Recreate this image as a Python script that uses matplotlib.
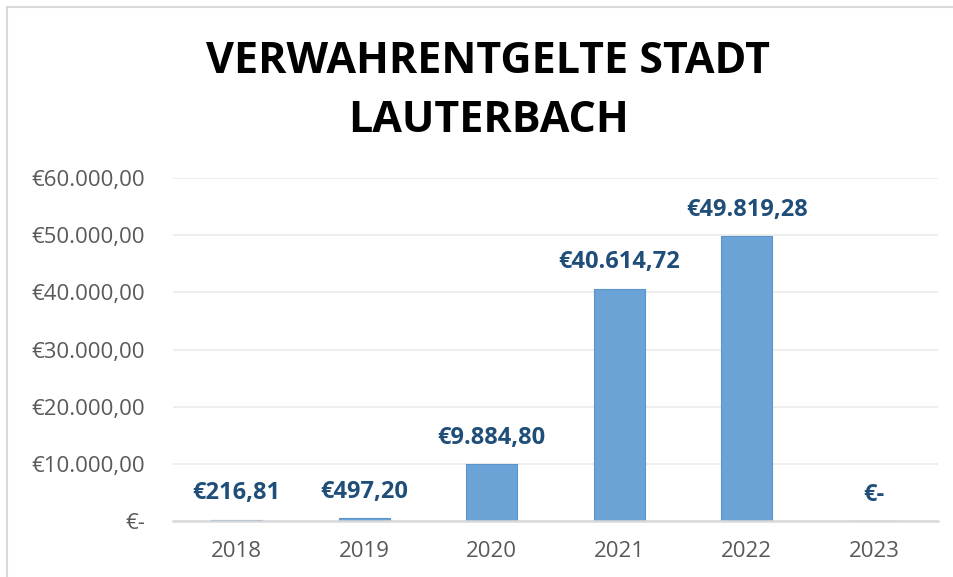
import matplotlib
matplotlib.use("Agg")
import matplotlib.pyplot as plt
from matplotlib.patches import Rectangle

years = ["2018", "2019", "2020", "2021", "2022", "2023"]
values = [216.81, 497.20, 9884.80, 40614.72, 49819.28, 0.0]
yticks = [0, 10000, 20000, 30000, 40000, 50000, 60000]
title = "VERWAHRENTGELTE STADT\nLAUTERBACH"


def eur(v):
    if v == 0:
        return "€-"
    s = f"{v:,.2f}"
    s = s.replace(",", "X").replace(".", ",").replace("X", ".")
    return "€" + s


plt.rcParams['font.family'] = ['Open Sans', 'DejaVu Sans']

fig = plt.figure(figsize=(9.54, 5.77), dpi=100)
fig.patch.set_facecolor("white")
# outer chart frame
fig.add_artist(Rectangle((7 / 954, -0.05), 1.1, 1 - 7 / 577 + 0.05, transform=fig.transFigure,
                         fill=False, edgecolor="#D9D9D9", linewidth=1.5))

ax = fig.add_axes([173 / 954, 1 - 521 / 577, (938 - 173) / 954, (521 - 178) / 577])
x = range(len(years))
bars = ax.bar(x, values, width=0.4, color="#6BA3D6", edgecolor="#5B93CB", linewidth=0.8, zorder=3)

ax.set_ylim(0, 60000)
ax.set_xlim(-0.5, len(years) - 0.5)
ax.set_yticks(yticks)
ax.set_yticklabels([eur(v) for v in yticks])
ax.set_xticks(list(x))
ax.set_xticklabels(years)
ax.tick_params(axis="both", length=0, colors="#595959", labelsize=16)
ax.tick_params(axis="y", pad=20)
ax.tick_params(axis="x", pad=14.5)
ax.grid(axis="y", color="#EBEBEB", linewidth=1.2, zorder=0)
ax.set_axisbelow(True)
for s in ["left", "right", "top"]:
    ax.spines[s].set_visible(False)
ax.spines["bottom"].set_color("#D9D9D9")
ax.spines["bottom"].set_linewidth(1.8)
ax.spines["bottom"].set_zorder(4)

for xi, v in zip(x, values):
    ax.annotate(eur(v), (xi, v), xytext=(0, 19), textcoords="offset points",
                ha="center", va="center", fontsize=17, fontweight="bold", color="#1F4E79")

fig.text(488 / 954, 1 - 91 / 577, title, ha="center", va="center", fontsize=31,
         fontweight="bold", color="black", linespacing=1.5)

fig.savefig("out.png", dpi=100)
